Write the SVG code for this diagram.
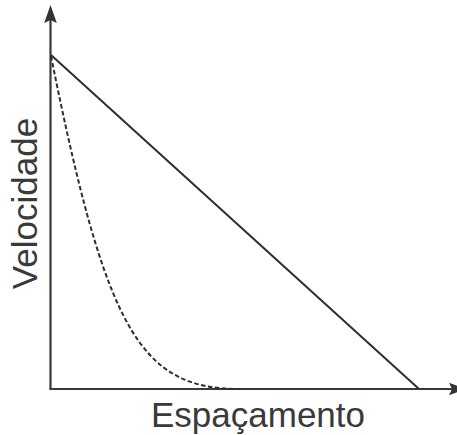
<svg xmlns="http://www.w3.org/2000/svg" width="457" height="435" viewBox="0 0 457 435">
<style>
.ax{stroke:#3a3a3a;stroke-width:2.2;fill:none}
.ln{stroke:#2e2e2e;stroke-width:2;fill:none}
.dash{stroke:#2e2e2e;stroke-width:2;fill:none;stroke-dasharray:4.5,2.5}
.head{fill:#333333;stroke:none}
.lbl{font-family:"Liberation Sans",Arial,sans-serif;font-size:35px;fill:#3a3a3a}
</style>
<rect width="457" height="435" fill="#ffffff"/>
<g id="axes">
<line class="ax" x1="50.5" y1="18" x2="50.5" y2="389"/>
<line class="ax" x1="49.4" y1="389" x2="452" y2="389"/>
<polygon class="head" points="50.5,5 56.8,23 50.5,20 44.2,23"/>
<polygon class="head" points="466,389 449,382.7 452,389 449,395.3"/>
</g>
<g id="connectors">
<line id="linear" class="ln" x1="51" y1="55" x2="419" y2="389"/>
<path id="curve" class="dash" d="M51,56 C106,330 140,389 240,389"/>
</g>
<g id="labels">
<text class="lbl" x="258" y="427" text-anchor="middle">Espaçamento</text>
<text class="lbl" transform="translate(37,203.5) rotate(-90)" text-anchor="middle">Velocidade</text>
</g>
</svg>
